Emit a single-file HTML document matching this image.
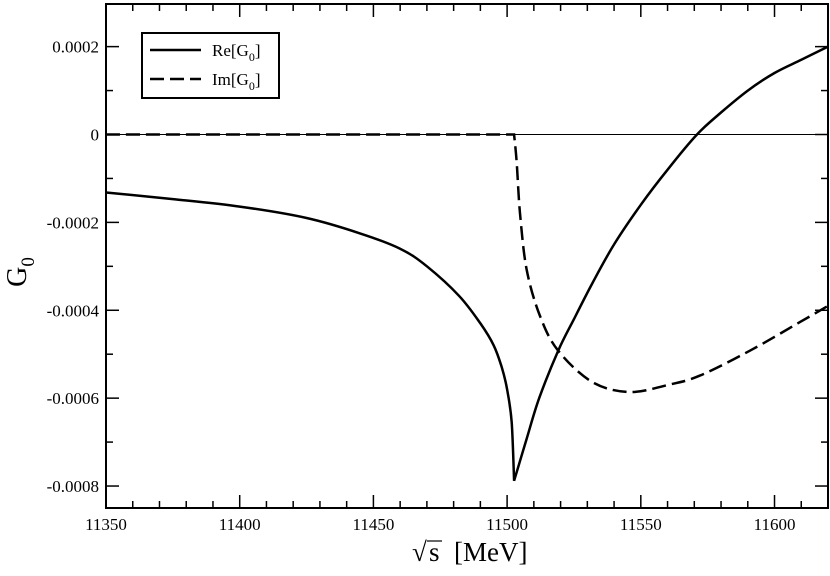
<!DOCTYPE html>
<html><head><meta charset="utf-8"><style>
body{margin:0;background:#fff}
svg text{font-family:"Liberation Serif",serif;fill:#000}
</style></head><body>
<svg id="c" width="830" height="571" xmlns="http://www.w3.org/2000/svg"></svg>
<script>
const xTicks=[11350,11400,11450,11500,11550,11600];
const yTicks=[0.0002,0,-0.0002,-0.0004,-0.0006,-0.0008];
const yTickLabels=["0.0002","0","-0.0002","-0.0004","-0.0006","-0.0008"];
const reX=[11350,11375,11400,11425,11445,11460,11470,11482,11490,11495,11498,11500,11501.7,11502.6,11507.3,11512,11519.1,11525,11532,11540,11550,11560,11571,11580,11590,11600,11610,11620];
const reY=[-0.000132,-0.000147,-0.000164,-0.00019,-0.000225,-0.00026,-0.0003,-0.000367,-0.00043,-0.00048,-0.00053,-0.00058,-0.000655,-0.000788,-0.000693,-0.0006,-0.000492,-0.00042,-0.000337,-0.00025,-0.00016,-0.00008,0,0.00005,0.0001,0.00014,0.00017,0.0002];
const imX=[11350,11502.6,11503.6,11504.8,11507.3,11512.3,11519.1,11532,11546,11560,11572,11590.8,11609.5,11620];
const imY=[0,0,-0.000064,-0.000177,-0.000307,-0.000413,-0.000492,-0.000564,-0.000586,-0.00057,-0.000549,-0.000492,-0.000427,-0.00039];
const reBreak=13, imBreak=1;
const L=106,R=828,T=4,B=508,x0=11350,x1=11620,y0=-0.00085,y1=0.000297;
const sx=v=>L+(v-x0)/(x1-x0)*(R-L);
const sy=v=>B-(v-y0)/(y1-y0)*(B-T);
const svg=document.getElementById('c');const NS="http://www.w3.org/2000/svg";
function mk(t,a,p){const e=document.createElementNS(NS,t);for(const k in a)e.setAttribute(k,a[k]);(p||svg).appendChild(e);return e;}
let z=mk('line',{x1:L,x2:R,y1:sy(0),y2:sy(0),stroke:'#000','stroke-width':1});


for(let v=11350;v<=11620;v+=10){const maj=(v%50===0);const h=maj?13:7;
 mk('line',{x1:sx(v),x2:sx(v),y1:B,y2:B-h,stroke:'#000','stroke-width':1.5});
 mk('line',{x1:sx(v),x2:sx(v),y1:T,y2:T+h,stroke:'#000','stroke-width':1.5});}
xTicks.forEach(v=>{const t=mk('text',{x:sx(v),y:530,'text-anchor':'middle','font-size':17});t.textContent=v;
 
 });
for(let i=-8;i<=2;i++){const v=i*0.0001;const maj=(i%2===0);const h=maj?13:7;
 mk('line',{x1:L,x2:L+h,y1:sy(v),y2:sy(v),stroke:'#000','stroke-width':1.5});
 mk('line',{x1:R,x2:R-h,y1:sy(v),y2:sy(v),stroke:'#000','stroke-width':1.5});}
yTicks.forEach((v,i)=>{const t=mk('text',{x:L-7,y:sy(v)+6,'text-anchor':'end','font-size':17});t.textContent=yTickLabels[i];
 
 });
let f=mk('rect',{x:L,y:T,width:R-L,height:B-T,fill:'none',stroke:'#000','stroke-width':2});


function cr(P){let d='M'+P[0][0].toFixed(1)+','+P[0][1].toFixed(1);
 for(let i=0;i<P.length-1;i++){const p0=P[i-1]||P[i],p1=P[i],p2=P[i+1],p3=P[i+2]||P[i+1];
  const c1=[p1[0]+(p2[0]-p0[0])/6,p1[1]+(p2[1]-p0[1])/6],c2=[p2[0]-(p3[0]-p1[0])/6,p2[1]-(p3[1]-p1[1])/6];
  d+='C'+c1.map(n=>n.toFixed(1))+' '+c2.map(n=>n.toFixed(1))+' '+p2[0].toFixed(1)+','+p2[1].toFixed(1);}
 return d;}
function path(X,Y,br){const P=X.map((v,i)=>[sx(v),sy(Y[i])]);return cr(P.slice(0,br+1))+cr(P.slice(br)).replace('M','L');}
let re=mk('path',{d:path(reX,reY,reBreak),fill:'none',stroke:'#000','stroke-width':2.5,'stroke-linejoin':'miter'});


let im=mk('path',{d:path(imX,imY,imBreak),fill:'none',stroke:'#000','stroke-width':2.5,'stroke-dasharray':'14,6'});


</script>
<svg style="position:absolute;left:0;top:0" width="830" height="571">
<g>
<rect x="142" y="33" width="137" height="65" fill="#fff" stroke="#000" stroke-width="2"/>
<line x1="150" y1="50" x2="201" y2="50" stroke="#000" stroke-width="2.5"/>
<text x="212" y="56" font-size="17" font-family="Liberation Serif,serif">Re[G<tspan font-size="12" dy="5">0</tspan><tspan dy="-5">]</tspan></text>
<line x1="150" y1="79" x2="201" y2="79" stroke="#000" stroke-width="2.5" stroke-dasharray="14,6"/>
<text x="212" y="85" font-size="17" font-family="Liberation Serif,serif">Im[G<tspan font-size="12" dy="5">0</tspan><tspan dy="-5">]</tspan></text>
</g>
<text transform="translate(26,272) rotate(-90)" text-anchor="middle" font-size="28" font-family="Liberation Serif,serif">G<tspan font-size="19" dy="8">0</tspan></text>
<g>
<text x="412" y="561" font-size="27" font-family="Liberation Serif,serif">√</text>
<text x="429" y="561" font-size="27" font-family="Liberation Serif,serif">s</text>
<line x1="427" y1="541" x2="442" y2="541" stroke="#000" stroke-width="1.2"/>
<text x="454" y="561" font-size="27" font-family="Liberation Serif,serif">[MeV]</text>
</g>
</svg>
</body></html>
